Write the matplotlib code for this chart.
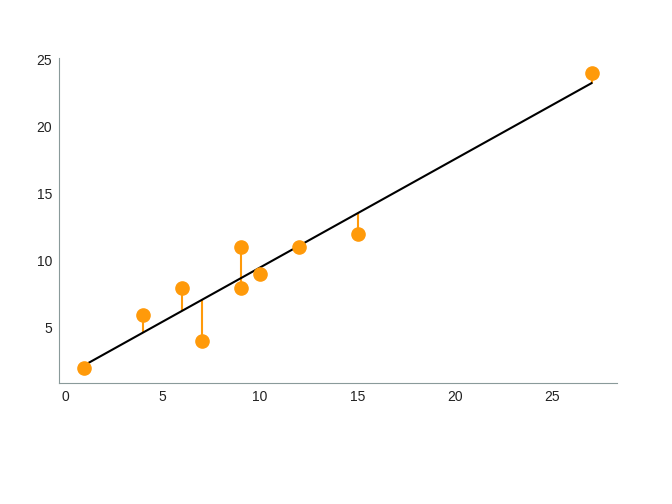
import matplotlib.pyplot as plt
import numpy as np

plt.rcParams['font.family'] = ['Liberation Sans', 'DejaVu Sans']

# data points
x = np.array([1, 4, 6, 7, 9, 9, 10, 12, 15, 27])
y = np.array([2, 6, 8, 4, 11, 8, 9, 11, 12, 24])

# least squares fit
slope, intercept = np.polyfit(x, y, 1)
yfit = slope * x + intercept

orange = '#ff9a0a'
grey = '#8a9a9a'

fig = plt.figure(figsize=(6.72, 5.04), dpi=100)
ax = fig.add_axes([0.088, 0.24, 0.83, 0.645])

# residuals
ax.vlines(x, y, yfit, color=orange, lw=1.5, zorder=1)
ax.plot(x, yfit, color='black', lw=1.5, zorder=2)
ax.plot(x, y, 'o', color=orange, ms=9.5, zorder=3)

ax.spines['top'].set_visible(False)
ax.spines['right'].set_visible(False)
ax.spines['left'].set_color(grey)
ax.spines['bottom'].set_color(grey)
ax.tick_params(length=0, labelsize=10, colors='#222222', pad=5)
ax.set_xticks([0, 5, 10, 15, 20, 25])
ax.set_yticks([5, 10, 15, 20, 25])

fig.savefig('out.png')
